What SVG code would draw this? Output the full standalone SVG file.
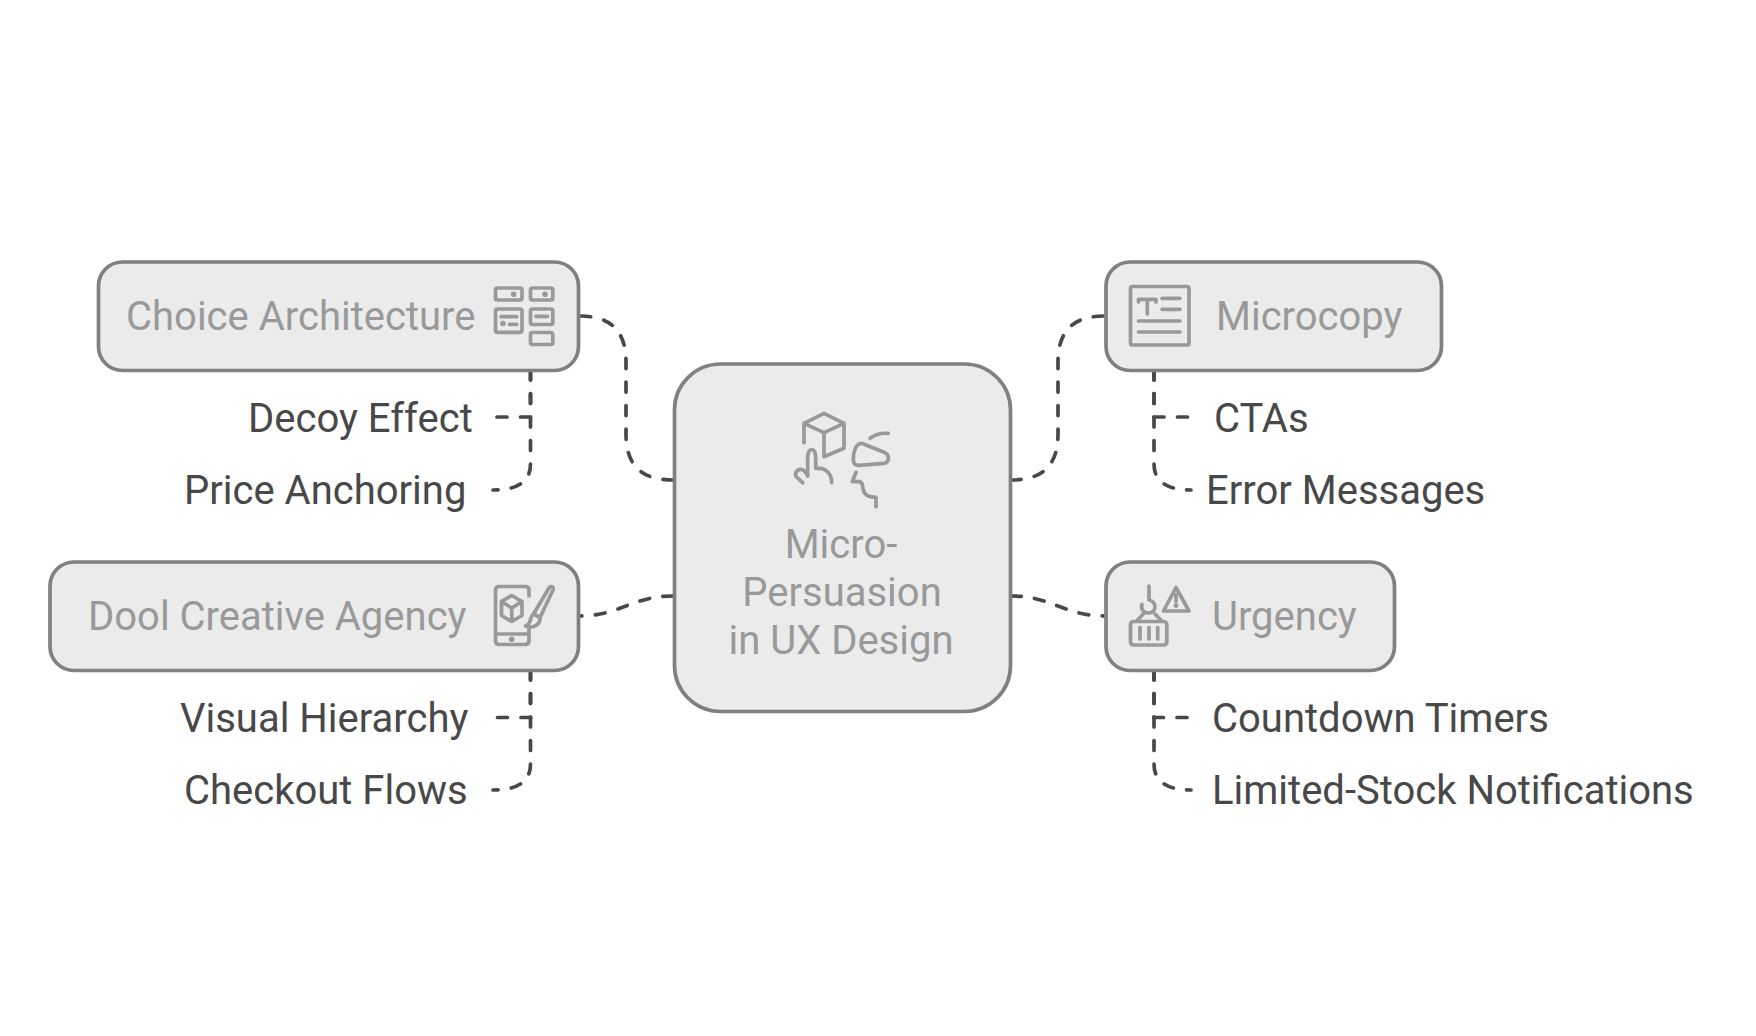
<svg xmlns="http://www.w3.org/2000/svg" width="1756" height="1036" viewBox="0 0 1756 1036">
<style>
text{font-family:Roboto,"Liberation Sans",sans-serif;font-size:40px}
.lbl{fill:#999999}
.leaf{fill:#484848}
.box{fill:#ebebeb;stroke:#808080;stroke-width:3.700}
.conn path{fill:none;stroke:#484848;stroke-width:3.700;stroke-linecap:round;stroke-dasharray:10 13.5}
.ic *{fill:none;stroke:#999999;stroke-width:3.700;stroke-linecap:round;stroke-linejoin:round}
.ic .dot{fill:#999999;stroke:none}
</style>
<rect width="1756" height="1036" fill="#ffffff"/>
<g id="connectors" class="conn">
<path d="M673 480C642 480 626 466 626 434V362C626 330 610 316 579 316"/>
<path d="M1011 480C1042 480 1058 466 1058 434V362C1058 330 1074 316 1105 316"/>
<path d="M673 596C632 596 620 616 579 616"/>
<path d="M1011 596C1052 596 1064 616 1105 616"/>
<path d="M530.500 370V417H495.500"/>
<path d="M530.500 370V464C530.500 480 520 490 493 490"/>
<path d="M1154 370V417H1190"/>
<path d="M1154 370V464C1154 480 1165 490 1191 490"/>
<path d="M530.500 670V717.500H495.500"/>
<path d="M530.500 670V764C530.500 780 520 790 493 790"/>
<path d="M1154 670V717.500H1190"/>
<path d="M1154 670V764C1154 780 1165 790 1191 790"/>
</g>
<g id="node-center">
<rect class="box" x="674.500" y="364" width="336" height="347.500" rx="46"/>
<g class="ic">
<path d="M804 442.700V423.300L824 413.300L844 423.300V448.300L824 456.700V432.700L804 423.300M824 432.700L844 423.300"/>
<path d="M802.700 482.700L796.500 477C794 473.500 797 469.300 800.700 469.300C803.500 469.300 806 472 807.700 476V457C807.700 447 815.700 447 815.700 457V468.300H820C826 468.300 831.700 474.500 831.700 482.700"/>
<path d="M861.700 443.300L884 452.300C888 454 888.500 456 888.300 458C888.300 462 886.500 463 884 463.300L859 465.300C855 465.500 853.300 463.500 853.300 459C853.300 452 856 443 861.700 443.300Z"/>
<path d="M870 438.300C875 434.500 882 433 888.300 433.300"/>
<path d="M856 472.300L852.300 481.700H859C863 482 862.500 486 863 489C864 495 868 497.300 876 497.300V506.700"/>
</g>
<text class="lbl" x="841" y="558" text-anchor="middle">Micro-</text>
<text class="lbl" x="842" y="606" text-anchor="middle">Persuasion</text>
<text class="lbl" x="841" y="654" text-anchor="middle">in UX Design</text>
</g>
<g id="node-choice">
<rect class="box" x="98.500" y="262" width="480" height="108.500" rx="24"/>
<g class="ic">
<rect x="495.500" y="288" width="26.500" height="12" rx="2"/>
<rect x="530.500" y="288" width="22.300" height="12" rx="2"/>
<rect x="495.500" y="309" width="26.500" height="23.300" rx="2"/>
<rect x="530.500" y="309" width="22.300" height="15.500" rx="2"/>
<rect x="530.500" y="332.500" width="22.300" height="12" rx="2"/>
<path d="M501 316.700H516.700M509.500 324.300H516.700M536 316.300H547.500"/>
<circle class="dot" cx="513.700" cy="294.300" r="2.800"/>
<circle class="dot" cx="545" cy="294.300" r="2.800"/>
<circle class="dot" cx="503" cy="323.500" r="2.800"/>
</g>
<text class="lbl" x="126" y="330">Choice Architecture</text>
</g>
<g id="node-dool">
<rect class="box" x="50" y="562" width="528.500" height="108.500" rx="24"/>
<g class="ic">
<path d="M529 596V590C529 587.500 527.500 586.500 525 586.500H499.500C497 586.500 495.500 588 495.500 590.500V640.500C495.500 643 497 644.500 499.500 644.500H525C527.500 644.500 529 643 529 640.500V627M495.500 634H529"/>
<path d="M511.700 595.500L522 601.500V615.500L511.700 621.500L501.500 615.500V601.500ZM501.500 601.500L511.700 608L522 601.500M511.700 608V621.500"/>
<path d="M549 588C550.500 585.500 554 586.500 553 590L540 617.500L533.500 614ZM533.500 614C529 617 532 624 525.500 626C532 628.500 540.500 626 540 617.500"/>
<circle class="dot" cx="511.700" cy="639.300" r="2.800"/>
</g>
<text class="lbl" x="88" y="630">Dool Creative Agency</text>
</g>
<g id="node-microcopy">
<rect class="box" x="1106" y="262" width="335.500" height="108.500" rx="24"/>
<g class="ic">
<rect x="1130.500" y="286.500" width="58.500" height="58.500" rx="2"/>
<path d="M1138.500 302V299.300H1156V302M1147.300 299.300V314M1162 298.300H1180M1162 309.300H1180M1138.500 321H1180M1138.500 332H1180"/>
</g>
<text class="lbl" x="1216" y="330">Microcopy</text>
</g>
<g id="node-urgency">
<rect class="box" x="1106" y="562" width="288.500" height="108.500" rx="24"/>
<g class="ic">
<path d="M1149 586V600C1157 601.500 1157 613 1148.500 613C1143 613 1140.500 608.500 1142 604.500"/>
<path d="M1143.300 614L1136.700 621M1155 614L1161.700 621"/>
<rect x="1130.500" y="621.500" width="36.300" height="23.500" rx="3"/>
<path d="M1140 627.500V639M1149 627.500V639M1157.700 627.500V639"/>
<path d="M1176 587.500L1189 611H1163.500Z"/>
<path d="M1176 594.500V601.500"/>
<circle class="dot" cx="1176" cy="605.700" r="2.400"/>
</g>
<text class="lbl" x="1212" y="630">Urgency</text>
</g>
<g id="leaf-decoy"><text class="leaf" x="248" y="432">Decoy Effect</text></g>
<g id="leaf-price"><text class="leaf" x="184" y="504">Price Anchoring</text></g>
<g id="leaf-ctas"><text class="leaf" x="1214" y="432">CTAs</text></g>
<g id="leaf-error"><text class="leaf" x="1206" y="504">Error Messages</text></g>
<g id="leaf-visual"><text class="leaf" x="180" y="732">Visual Hierarchy</text></g>
<g id="leaf-checkout"><text class="leaf" x="184" y="804">Checkout Flows</text></g>
<g id="leaf-countdown"><text class="leaf" x="1212" y="732">Countdown Timers</text></g>
<g id="leaf-limited"><text class="leaf" x="1212" y="804">Limited-Stock Notifications</text></g>
</svg>
